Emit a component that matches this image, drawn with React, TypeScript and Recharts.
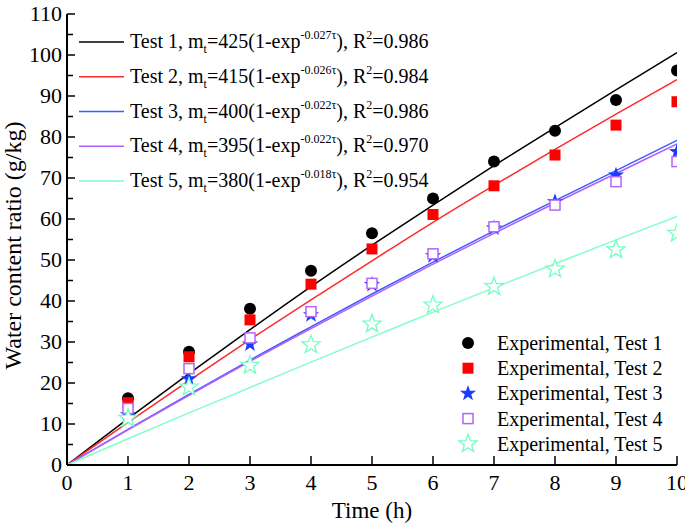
import React from 'react';
import { ComposedChart, Line, Scatter, XAxis, YAxis } from 'recharts';

document.body.style.margin = '0';

// measured points (h, g/kg)
const hours = [1, 2, 3, 4, 5, 6, 7, 8, 9, 10];
const test1 = [16.3, 27.6, 38.1, 47.4, 56.5, 65.0, 74.0, 81.5, 89.0, 96.2];
const test2 = [15.2, 26.4, 35.4, 44.1, 52.7, 61.1, 68.1, 75.6, 82.9, 88.6];
const test3 = [12.2, 21.0, 29.5, 36.6, 44.0, 51.0, 57.8, 64.2, 70.7, 76.4];
const test4 = [13.8, 23.5, 31.0, 37.4, 44.3, 51.5, 58.1, 63.4, 69.1, 74.0];
const test5 = [11.4, 19.0, 24.3, 29.3, 34.4, 39.0, 43.5, 47.8, 52.5, 56.5];

// fitted curves
const fitHours = [0, 1, 2, 3, 4, 5, 6, 7, 8, 9, 10];
const fit1 = [0, 11.3, 22.3, 33.0, 43.5, 53.6, 63.4, 73.0, 82.3, 91.5, 100.6];
const fit2 = [0, 10.4, 20.6, 30.6, 40.3, 49.8, 59.2, 68.2, 77.0, 85.6, 94.0];
const fit3 = [0, 8.7, 17.2, 25.6, 33.7, 41.7, 49.5, 57.1, 64.5, 71.8, 79.2];
const fit4 = [0, 8.6, 17.0, 25.3, 33.3, 41.2, 49.0, 56.5, 63.9, 71.1, 78.3];
const fit5 = [0, 6.4, 12.7, 18.9, 25.1, 31.2, 37.3, 43.2, 49.1, 54.9, 60.6];

const xTicks = [0, 1, 2, 3, 4, 5, 6, 7, 8, 9, 10];
const yTicks = [0, 5, 10, 15, 20, 25, 30, 35, 40, 45, 50, 55, 60, 65, 70, 75, 80, 85, 90, 95, 100, 105, 110];

const fitNames = ['Test 1', 'Test 2', 'Test 3', 'Test 4', 'Test 5'];
const fitAmp = ['425', '415', '400', '395', '380'];
const fitRate = ['-0.027', '-0.026', '-0.022', '-0.022', '-0.018'];
const fitR2 = ['0.986', '0.984', '0.986', '0.970', '0.954'];
const expNames = ['Experimental, Test 1', 'Experimental, Test 2', 'Experimental, Test 3', 'Experimental, Test 4', 'Experimental, Test 5'];

const lineColors = ['#000000', '#ff2a2a', '#3f5cff', '#b060ff', '#80ffc8'];
const markColors = ['#000000', '#ff0000', '#1a3cff', '#b266ff', '#70ffc0'];
const markKinds = ['circle', 'square', 'star', 'openSquare', 'openStar'];

const FONT = 'Liberation Serif';

const pts = (xs: number[], ys: number[]) => xs.map((x, i) => ({ x, y: ys[i] }));

const starPath = (cx: number, cy: number, ro: number, ri: number) => {
  let d = '';
  for (let i = 0; i < 10; i++) {
    const r = i % 2 === 0 ? ro : ri;
    const a = -Math.PI / 2 + (i * Math.PI) / 5;
    d += (i === 0 ? 'M' : 'L') + (cx + r * Math.cos(a)).toFixed(2) + ',' + (cy + r * Math.sin(a)).toFixed(2);
  }
  return d + 'Z';
};

const Marker = ({ kind, cx, cy, color }: { kind: string; cx: number; cy: number; color: string }) => {
  if (kind === 'circle') return <circle cx={cx} cy={cy} r={6} fill={color} />;
  if (kind === 'square') return <rect x={cx - 5.5} y={cy - 5.5} width={11} height={11} fill={color} />;
  if (kind === 'star') return <path d={starPath(cx, cy, 8.5, 3.4)} fill={color} />;
  if (kind === 'openSquare')
    return <rect x={cx - 5} y={cy - 5} width={10} height={10} fill="#fff" stroke={color} strokeWidth={1.5} />;
  return <path d={starPath(cx, cy, 9.5, 3.9)} fill="#fff" stroke={color} strokeWidth={1.3} />;
};

const BottomTick = ({ x, y, payload }: any) => (
  <g>
    <line x1={x} y1={y} x2={x} y2={y - 9} stroke="#000" strokeWidth={1.5} />
    <text x={x} y={y + 25} textAnchor="middle" fontSize={22} fontFamily={FONT} fill="#000">
      {payload.value}
    </text>
  </g>
);

const TopTick = ({ x, y }: any) => <line x1={x} y1={y} x2={x} y2={y + 9} stroke="#000" strokeWidth={1.5} />;

const LeftTick = ({ x, y, payload }: any) => {
  const major = payload.value % 10 === 0;
  return (
    <g>
      <line x1={x} y1={y} x2={x + (major ? 8 : 6)} y2={y} stroke="#000" strokeWidth={1.5} />
      {major && (
        <text x={x - 5} y={y + 7} textAnchor="end" fontSize={22} fontFamily={FONT} fill="#000">
          {payload.value}
        </text>
      )}
    </g>
  );
};

const RightTick = ({ x, y, payload }: any) => {
  const major = payload.value % 10 === 0;
  return <line x1={x} y1={y} x2={x - (major ? 8 : 6)} y2={y} stroke="#000" strokeWidth={1.5} />;
};

const YLabel = ({ viewBox }: any) => {
  const cx = viewBox.x + 21;
  const cy = viewBox.y + viewBox.height / 2 + 6;
  return (
    <text x={cx} y={cy} transform={`rotate(-90 ${cx} ${cy})`} textAnchor="middle" fontSize={24} fontFamily={FONT} fill="#000">
      Water content ratio (g/kg)
    </text>
  );
};

const XLabel = ({ viewBox }: any) => (
  <text x={viewBox.x + viewBox.width / 2} y={518} textAnchor="middle" fontSize={23} fontFamily={FONT} fill="#000">
    Time (h)
  </text>
);

const Legends = () => (
  <svg width={685} height={532} style={{ position: 'absolute', left: 0, top: 0, pointerEvents: 'none' }}>
    {fitNames.map((name, i) => {
      const cy = 42 + i * 34.75;
      return (
        <g key={name}>
          <line x1={79} y1={cy} x2={124} y2={cy} stroke={lineColors[i]} strokeWidth={1.5} />
          <text x={130} y={cy + 6} fontSize={20} fontFamily={FONT} fill="#000">
            {name}, m
            <tspan dy={5} fontSize={12}>t</tspan>
            <tspan dy={-5}>={fitAmp[i]}(1-exp</tspan>
            <tspan dy={-9} fontSize={12}>{fitRate[i]}τ</tspan>
            <tspan dy={9}>), R</tspan>
            <tspan dy={-9} fontSize={12}>2</tspan>
            <tspan dy={9}>={fitR2[i]}</tspan>
          </text>
        </g>
      );
    })}
    {expNames.map((name, i) => {
      const cy = 343 + i * 25.2;
      return (
        <g key={name}>
          <Marker kind={markKinds[i]} cx={468} cy={cy} color={markColors[i]} />
          <text x={497} y={cy + 7} fontSize={20} fontFamily={FONT} fill="#000">
            {name}
          </text>
        </g>
      );
    })}
  </svg>
);

const expSeries = [test1, test2, test3, test4, test5];
const fitSeries = [fit1, fit2, fit3, fit4, fit5];

export default function App() {
  return (
    <div style={{ position: 'relative', width: 685, height: 532, background: '#fff', fontFamily: FONT }}>
      <ComposedChart width={685} height={532} margin={{ top: 14, right: 8, bottom: 0, left: 0 }}>
        <XAxis
          xAxisId={0}
          type="number"
          dataKey="x"
          domain={[0, 10]}
          ticks={xTicks}
          interval={0}
          height={67}
          tickSize={0}
          tickMargin={0}
          tickLine={false}
          tick={<BottomTick />}
          axisLine={{ stroke: '#000', strokeWidth: 2 }}
          label={<XLabel />}
          allowDataOverflow
        />
        <XAxis
          xAxisId="top"
          orientation="top"
          type="number"
          dataKey="x"
          domain={[0, 10]}
          ticks={xTicks}
          interval={0}
          height={0}
          tickSize={0}
          tickMargin={0}
          tickLine={false}
          tick={<TopTick />}
          axisLine={{ stroke: '#000', strokeWidth: 2 }}
        />
        <YAxis
          yAxisId={0}
          type="number"
          domain={[0, 110]}
          ticks={yTicks}
          interval={0}
          width={67}
          tickSize={0}
          tickMargin={0}
          tickLine={false}
          tick={<LeftTick />}
          axisLine={{ stroke: '#000', strokeWidth: 2 }}
          label={<YLabel />}
          allowDataOverflow
        />
        <YAxis
          yAxisId="right"
          orientation="right"
          type="number"
          domain={[0, 110]}
          ticks={yTicks}
          interval={0}
          width={0}
          tickSize={0}
          tickMargin={0}
          tickLine={false}
          tick={<RightTick />}
          axisLine={{ stroke: '#000', strokeWidth: 2 }}
        />
        {fitSeries.map((ys, i) => (
          <Line
            key={'fit' + i}
            data={pts(fitHours, ys)}
            dataKey="y"
            type="monotone"
            stroke={lineColors[i]}
            strokeWidth={1.5}
            dot={false}
            activeDot={false}
            isAnimationActive={false}
          />
        ))}
        {expSeries.map((ys, i) => (
          <Scatter
            key={'exp' + i}
            data={pts(hours, ys)}
            dataKey="y"
            isAnimationActive={false}
            shape={(p: any) => <Marker kind={markKinds[i]} cx={p.cx} cy={p.cy} color={markColors[i]} />}
          />
        ))}
      </ComposedChart>
      <Legends />
    </div>
  );
}
